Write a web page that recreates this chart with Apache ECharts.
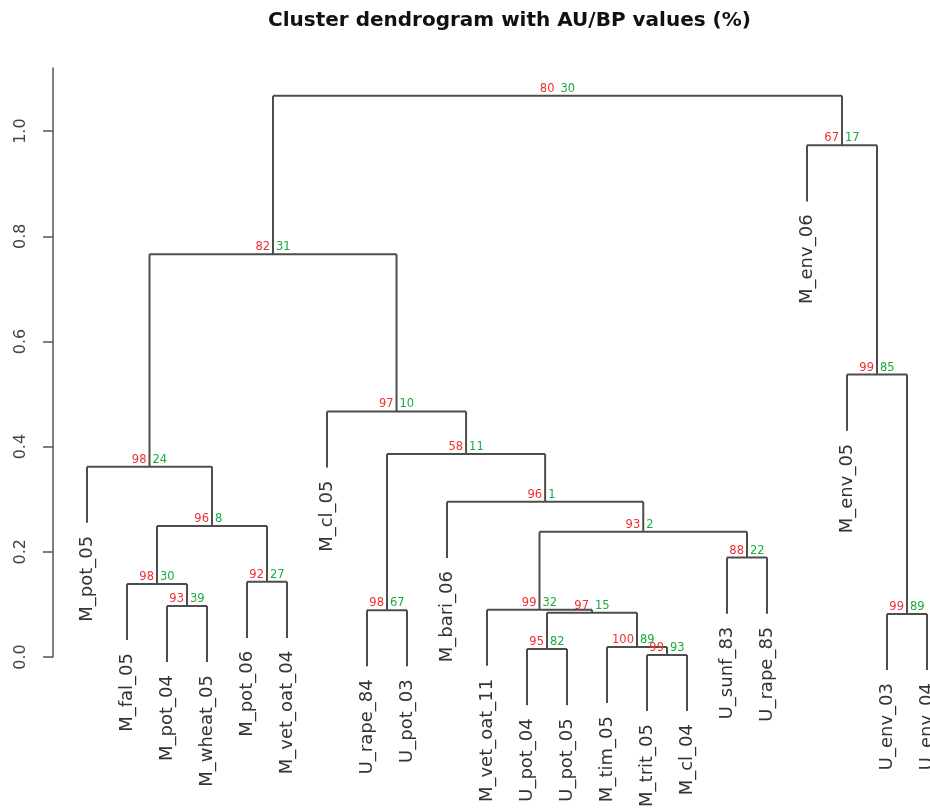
<!DOCTYPE html>
<html><head><meta charset="utf-8">
<script src="https://cdn.jsdelivr.net/npm/echarts@6/dist/echarts.min.js"></script>
<style>html,body{margin:0;padding:0;background:#fff}#c{width:930px;height:809px}</style>
</head><body><div id="c"></div>
<script>
// Leaves in display order
const leafLabels = ['M_pot_05','M_fal_05','M_pot_04','M_wheat_05','M_pot_06','M_vet_oat_04','M_cl_05','U_rape_84','U_pot_03','M_bari_06','M_vet_oat_11','U_pot_04','U_pot_05','M_tim_05','M_trit_05','M_cl_04','U_sunf_83','U_rape_85','M_env_06','M_env_05','U_env_03','U_env_04'];
// Merge table (negative = leaf position, positive = earlier merge number)
const mergeLeft   = [-15,-12,-14,-21, 2, -8,-11, -3, -2, -5,-17,  7,  9,-10, -1,  6, -7,-20, 15,-19, 19];
const mergeRight  = [-16,-13,  1,-22, 3, -9,  5, -4,  8, -6,-18, 11, 10, 12, 13, 14, 16,  4, 17, 18, 20];
const mergeHeight = [0.004,0.015,0.019,0.082,0.084,0.089,0.090,0.097,0.139,0.143,0.189,0.238,0.249,0.295,0.362,0.386,0.467,0.537,0.766,0.973,1.067];
const auValues    = [99, 95,100, 99, 97, 98, 99, 93, 98, 92, 88, 93, 96, 96, 98, 58, 97, 99, 82, 67, 80];
const bpValues    = [93, 82, 89, 89, 15, 67, 32, 39, 30, 27, 22,  2,  8,  1, 24, 11, 10, 85, 31, 17, 30];
const yTicks = [0, 0.2, 0.4, 0.6, 0.8, 1.0];

const hang = 0.1 * Math.max(...mergeHeight);
const nodeX = [], segs = [], leafEnds = [], nodeLabels = [];
mergeHeight.forEach((h, i) => {
  const kids = [mergeLeft[i], mergeRight[i]].map(c => c < 0
    ? { x: -c, y: h - hang, leaf: -c }
    : { x: nodeX[c - 1], y: mergeHeight[c - 1] });
  nodeX[i] = (kids[0].x + kids[1].x) / 2;
  segs.push([kids[0].x, h, kids[1].x, h]);
  kids.forEach(k => {
    segs.push([k.x, h, k.x, k.y]);
    if (k.leaf) leafEnds.push([k.x, k.y, k.leaf - 1]);
  });
  nodeLabels.push([nodeX[i], h, i]);
});

const chart = echarts.init(document.getElementById('c'), null, { renderer: 'canvas' });
chart.setOption({
  animation: false,
  backgroundColor: '#ffffff',
  title: {
    text: 'Cluster dendrogram with AU/BP values (%)',
    left: 263, top: 6,
    textStyle: { fontFamily: 'DejaVu Sans', fontWeight: 'bold', fontSize: 20, color: '#111' }
  },
  grid: { left: 53, right: 0, top: 68, bottom: 152, containLabel: false },
  xAxis: { type: 'value', min: 0.15, max: 22.075, show: false },
  yAxis: {
    type: 'value', min: 0, max: 1.12,
    splitLine: { show: false },
    axisLine: { show: true, lineStyle: { color: '#555', width: 1.5 } },
    axisTick: { show: true, length: 10, customValues: yTicks, lineStyle: { color: '#555', width: 1.5 } },
    axisLabel: {
      customValues: yTicks, rotate: 90, margin: 24,
      fontFamily: 'DejaVu Sans', fontSize: 16, color: '#444',
      formatter: v => v.toFixed(1)
    }
  },
  series: [
    {
      type: 'custom', clip: false, data: segs,
      encode: { x: [0, 2], y: [1, 3] },
      renderItem: (params, api) => {
        const p1 = api.coord([api.value(0), api.value(1)]);
        const p2 = api.coord([api.value(2), api.value(3)]);
        return { type: 'line', shape: { x1: p1[0], y1: p1[1], x2: p2[0], y2: p2[1] },
          style: { stroke: '#4d4d4d', lineWidth: 2 } };
      }
    },
    {
      type: 'custom', clip: false, data: leafEnds,
      encode: { x: 0, y: 1 },
      renderItem: (params, api) => {
        const p = api.coord([api.value(0), api.value(1)]);
        return { type: 'text', x: p[0], y: p[1] + 13, rotation: Math.PI / 2,
          style: { text: leafLabels[leafEnds[params.dataIndex][2]], fill: '#333',
            fontFamily: 'DejaVu Sans', fontSize: 18, align: 'right', verticalAlign: 'middle' } };
      }
    },
    {
      type: 'custom', clip: false, data: nodeLabels,
      encode: { x: 0, y: 1 },
      renderItem: (params, api) => {
        const p = api.coord([api.value(0), api.value(1)]);
        const i = nodeLabels[params.dataIndex][2];
        return { type: 'group', children: [
          { type: 'text', x: p[0] - 3, y: p[1] - 1,
            style: { text: String(auValues[i]), fill: '#ee3030', fontFamily: 'DejaVu Sans', fontSize: 11.5, align: 'right', verticalAlign: 'bottom' } },
          { type: 'text', x: p[0] + 3, y: p[1] - 1,
            style: { text: String(bpValues[i]), fill: '#18ad3a', fontFamily: 'DejaVu Sans', fontSize: 11.5, align: 'left', verticalAlign: 'bottom' } }
        ] };
      }
    }
  ]
});
</script></body></html>
